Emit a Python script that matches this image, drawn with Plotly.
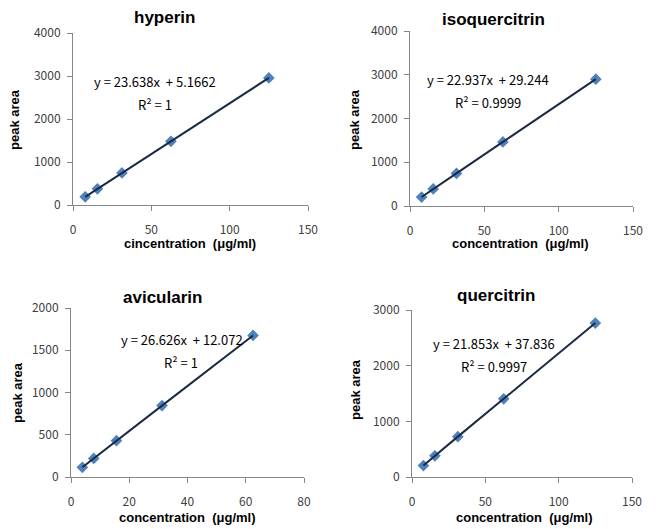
import plotly.graph_objects as go
from plotly.subplots import make_subplots

# data
hyperin_conc = [7.8, 15.6, 31.25, 62.5, 125]
hyperin_area = [190, 375, 745, 1480, 2955]

isoq_conc = [7.8, 15.6, 31.25, 62.5, 125]
isoq_area = [205, 390, 745, 1465, 2900]

avic_conc = [3.9, 7.8, 15.6, 31.25, 62.5]
avic_area = [115, 220, 430, 845, 1675]

querc_conc = [7.8, 15.6, 31.25, 62.5, 125]
querc_area = [205, 380, 725, 1405, 2765]

titles = ['hyperin', 'isoquercitrin', 'avicularin', 'quercitrin']
equations = ['y = 23.638x  + 5.1662', 'y = 22.937x  + 29.244',
             'y = 26.626x  + 12.072', 'y = 21.853x  + 37.836']
r2_labels = ['R² = 1', 'R² = 0.9999', 'R² = 1', 'R² = 0.9997']
x_titles = ['cincentration  (μg/ml)', 'concentration  (μg/ml)',
            'concentration  (μg/ml)', 'concentration  (μg/ml)']

# the page body has an 8px margin, so the figure is drawn 8px smaller and
# positions below (taken in window pixels) are shifted back by that much
PAD = 8
W, H = 656 - PAD, 529 - PAD
marker_color = '#4F81BD'
line_color = '#1B2A44'
tick_font = dict(family='Noto Sans CJK KR, DejaVu Sans', size=12, color='#404040')

panels = [
    dict(conc=hyperin_conc, area=hyperin_area, xr=[0, 150], xd=50, yr=[0, 4000], yd=1000,
         box=(73, 308, 33, 205), title=(164, 18), ytitle=(15, 120), xtitle=(190, 243),
         eq=(155, 82), r2=(155, 105)),
    dict(conc=isoq_conc, area=isoq_area, xr=[0, 150], xd=50, yr=[0, 4000], yd=1000,
         box=(410, 633, 31, 206), title=(493, 19), ytitle=(355, 120), xtitle=(520, 243),
         eq=(488, 80), r2=(488, 102)),
    dict(conc=avic_conc, area=avic_area, xr=[0, 80], xd=20, yr=[0, 2000], yd=500,
         box=(71, 304, 308, 477), title=(162, 297), ytitle=(17, 393), xtitle=(187, 517),
         eq=(182, 340), r2=(181, 362)),
    dict(conc=querc_conc, area=querc_area, xr=[0, 150], xd=50, yr=[0, 3000], yd=1000,
         box=(412, 632, 310, 477), title=(496, 295), ytitle=(356, 390), xtitle=(524, 517),
         eq=(494, 343), r2=(494, 366)),
]


def px(x):
    return (x - PAD) / W


def py(y):
    return (H - (y - PAD)) / H


fig = make_subplots(rows=2, cols=2)
annotations = []

for i, p in enumerate(panels):
    row, col = i // 2 + 1, i % 2 + 1
    fig.add_trace(go.Scatter(x=p['conc'], y=p['area'], mode='markers', showlegend=False,
                             marker=dict(symbol='diamond', size=9, color=marker_color,
                                         line=dict(width=0))), row=row, col=col)
    fig.add_trace(go.Scatter(x=p['conc'], y=p['area'], mode='lines', showlegend=False,
                             line=dict(color=line_color, width=2)), row=row, col=col)

    x0, x1, y0, y1 = p['box']
    fig.update_xaxes(domain=[px(x0), px(x1)], range=p['xr'], dtick=p['xd'], row=row, col=col)
    fig.update_yaxes(domain=[py(y1), py(y0)], range=p['yr'], dtick=p['yd'], row=row, col=col)

    annotations += [
        dict(text='<b>' + titles[i] + '</b>', x=px(p['title'][0]), y=py(p['title'][1]),
             font=dict(family='Liberation Sans', size=17, color='black')),
        dict(text='<b>peak area</b>', x=px(p['ytitle'][0]), y=py(p['ytitle'][1]), textangle=-90,
             font=dict(family='Liberation Sans', size=13, color='black')),
        dict(text='<b>' + x_titles[i] + '</b>', x=px(p['xtitle'][0]), y=py(p['xtitle'][1]),
             font=dict(family='Liberation Sans', size=13, color='black')),
        dict(text=equations[i].replace('  ', '&nbsp; '), x=px(p['eq'][0]), y=py(p['eq'][1]),
             font=dict(family='Noto Sans CJK KR, DejaVu Sans', size=13, color='black')),
        dict(text=r2_labels[i], x=px(p['r2'][0]), y=py(p['r2'][1]),
             font=dict(family='Noto Sans CJK KR, DejaVu Sans', size=13, color='black')),
    ]

for a in annotations:
    a.update(xref='paper', yref='paper', xanchor='center', yanchor='middle', showarrow=False)

fig.update_xaxes(showline=True, linecolor='#868686', linewidth=1, ticks='outside', ticklen=5,
                 tickcolor='#868686', showgrid=False, zeroline=False, tickfont=tick_font,
                 ticklabelstandoff=9, automargin=False)
fig.update_yaxes(showline=True, linecolor='#868686', linewidth=1, ticks='outside', ticklen=5,
                 tickcolor='#868686', showgrid=False, zeroline=False, tickfont=tick_font,
                 ticklabelstandoff=4, automargin=False)

fig.update_layout(width=W, height=H, margin=dict(l=0, r=0, t=0, b=0),
                  plot_bgcolor='white', paper_bgcolor='white', annotations=annotations)

fig.write_html('out.html')
